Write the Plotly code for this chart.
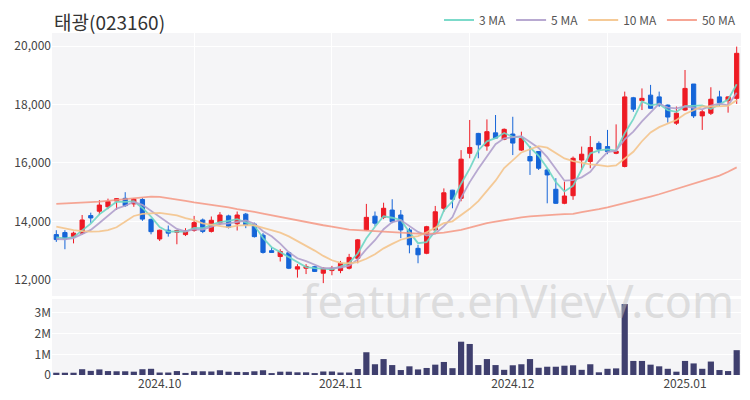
import plotly.graph_objects as go
import pandas as pd

dates = (
    ["2024-09-10", "2024-09-11", "2024-09-12", "2024-09-13", "2024-09-19", "2024-09-20",
     "2024-09-23", "2024-09-24", "2024-09-25", "2024-09-26", "2024-09-27", "2024-09-30"]
    + ["2024-10-02", "2024-10-04", "2024-10-07", "2024-10-08", "2024-10-10", "2024-10-11",
       "2024-10-14", "2024-10-15", "2024-10-16", "2024-10-17", "2024-10-18", "2024-10-21",
       "2024-10-22", "2024-10-23", "2024-10-24", "2024-10-25", "2024-10-28", "2024-10-29",
       "2024-10-30", "2024-10-31"]
    + ["2024-11-01", "2024-11-04", "2024-11-05", "2024-11-06", "2024-11-07", "2024-11-08",
       "2024-11-11", "2024-11-12", "2024-11-13", "2024-11-14", "2024-11-15", "2024-11-18",
       "2024-11-19", "2024-11-20", "2024-11-21", "2024-11-22", "2024-11-25", "2024-11-26",
       "2024-11-27", "2024-11-28", "2024-11-29"]
    + ["2024-12-02", "2024-12-03", "2024-12-04", "2024-12-05", "2024-12-06", "2024-12-09",
       "2024-12-10", "2024-12-11", "2024-12-12", "2024-12-13", "2024-12-16", "2024-12-17",
       "2024-12-18", "2024-12-19", "2024-12-20", "2024-12-23", "2024-12-24", "2024-12-26",
       "2024-12-27", "2024-12-30"]
    + ["2025-01-02", "2025-01-03", "2025-01-06", "2025-01-07", "2025-01-08", "2025-01-09",
       "2025-01-10"]
)

open_ = [13550, 13620, 13480, 13600, 14200, 14350, 14500, 14700, 14790, 14600,
         14750, 14070, 13400, 13700, 13630, 13550, 13690, 14050, 13660, 13950,
         14190, 13920, 14250, 13910, 13530, 13000, 12800, 12930, 12370, 12400,
         12450, 12230, 12320, 12320, 12400, 12740, 13710, 14180, 14140, 14390,
         14220, 13710, 13080, 12910, 13710, 14450, 15070, 14790, 16330, 17010,
         16580, 17030, 16810, 16990, 16440, 16220, 16390, 15760, 15100, 14620,
         14880, 16100, 16050, 16670, 16560, 16330, 15880, 18230, 18130, 18320,
         18260, 17980, 17360, 17810, 18700, 17610, 17700, 18260, 18130, 18210]
high = [13700, 13700, 13650, 14220, 14300, 14730, 14780, 14800, 15000, 14800,
        14800, 14100, 13720, 13860, 13710, 13770, 14190, 14100, 14170, 14320,
        14230, 14340, 14290, 13960, 13600, 13110, 13050, 12970, 12540, 12540,
        12480, 12430, 12480, 12650, 12890, 13400, 14600, 14340, 14640, 14760,
        14390, 13780, 13200, 13850, 14530, 15130, 15080, 16440, 17470, 17030,
        17490, 17640, 17180, 17580, 17070, 16580, 16390, 15820, 15480, 15360,
        16220, 16560, 16920, 16740, 17130, 17320, 18440, 18260, 18550, 18670,
        18440, 18000, 17930, 19180, 18700, 17810, 18590, 18470, 18280, 19980]
low = [13300, 13050, 13250, 13550, 13950, 14230, 14420, 14400, 14500, 14500,
       14020, 13560, 13330, 13480, 13220, 13500, 13650, 13600, 13620, 13880,
       13760, 13690, 13770, 13450, 12900, 12930, 12630, 12370, 12080, 12200,
       12270, 11890, 12160, 12230, 12360, 12570, 13690, 13850, 14080, 13940,
       13430, 12910, 12570, 12880, 13680, 14330, 14450, 14690, 16160, 16160,
       16420, 16840, 16780, 16270, 16410, 15590, 15760, 14620, 14600, 14590,
       14740, 15760, 15820, 16330, 16300, 16300, 15850, 17750, 17810, 17860,
       17920, 17380, 17300, 17780, 17540, 17130, 17640, 17950, 17720, 18020]
close = [13380, 13400, 13600, 14050, 14120, 14560, 14680, 14780, 14540, 14760,
         14080, 13650, 13700, 13600, 13690, 13680, 13960, 13660, 14040, 14220,
         13800, 14220, 13880, 13480, 12940, 12940, 12970, 12400, 12450, 12460,
         12290, 12400, 12400, 12570, 12770, 13370, 14140, 13940, 14450, 13990,
         13710, 13200, 12860, 13820, 14330, 14980, 14760, 16130, 16530, 16620,
         17070, 16850, 17150, 16680, 16840, 16070, 15820, 15590, 14620, 14870,
         16160, 16300, 16530, 16470, 16390, 16400, 18260, 17840, 18210, 17870,
         17980, 17570, 17700, 18550, 17610, 17750, 18180, 18060, 18260, 19750]
volume = [0.11, 0.11, 0.11, 0.28, 0.20, 0.27, 0.19, 0.18, 0.18, 0.16,
          0.28, 0.30, 0.12, 0.12, 0.19, 0.10, 0.18, 0.18, 0.17, 0.23,
          0.16, 0.15, 0.14, 0.18, 0.23, 0.08, 0.16, 0.16, 0.13, 0.13,
          0.08, 0.17, 0.17, 0.12, 0.12, 0.29, 1.10, 0.52, 0.77, 0.48,
          0.24, 0.42, 0.27, 0.34, 0.50, 0.63, 0.33, 1.61, 1.50, 0.48,
          0.77, 0.48, 0.25, 0.47, 0.52, 0.77, 0.35, 0.40, 0.40, 0.45,
          0.47, 0.25, 0.52, 0.13, 0.30, 0.32, 3.43, 0.68, 0.68, 0.50,
          0.42, 0.30, 0.16, 0.68, 0.56, 0.30, 0.65, 0.24, 0.19, 1.20]

# moving averages: leading values (history before the window)
ma3_head = [13450, 13420]
ma5_head = [13400, 13390, 13430, 13560]
ma10_head = [13820, 13760, 13700, 13670, 13650, 13660, 13700, 13800, 13990]
ma50 = [14600, 14610, 14625, 14640, 14660, 14680, 14705, 14735, 14765, 14795,
        14825, 14850, 14840, 14800, 14750, 14700, 14650, 14610, 14560, 14520,
        14480, 14420, 14380, 14330, 14270, 14210, 14150, 14100, 14040, 13980,
        13920, 13870, 13820, 13770, 13720, 13700, 13680, 13660, 13640, 13625,
        13615, 13600, 13585, 13575, 13590, 13615, 13660, 13710, 13790, 13870,
        13940, 13995, 14050, 14100, 14140, 14170, 14200, 14220, 14235, 14250,
        14260, 14320, 14360, 14420, 14480, 14550, 14620, 14690, 14760, 14850,
        14930, 15020, 15100, 15190, 15280, 15370, 15470, 15570, 15700, 15850]

x_label_idx = [12, 33, 53, 73]
x_labels = ["2024.10", "2024.11", "2024.12", "2025.01"]
x_grid_idx = [16, 32, 48, 64]


def moving_avg(values, n, head):
    s = pd.Series(values, dtype=float).rolling(n).mean().tolist()
    for i, v in enumerate(head):
        s[i] = v
    return s


ma3 = moving_avg(close, 3, ma3_head)
ma5 = moving_avg(close, 5, ma5_head)
ma10 = moving_avg(close, 10, ma10_head)

RED = "#ee1b24"
BLUE = "#1565d8"
FONT = "Noto Sans CJK KR, Noto Sans, sans-serif"

fig = go.Figure()
fig.add_trace(go.Candlestick(
    x=dates, open=open_, high=high, low=low, close=close,
    increasing=dict(line=dict(color=RED, width=1), fillcolor=RED),
    decreasing=dict(line=dict(color=BLUE, width=1), fillcolor=BLUE),
    showlegend=False, xaxis="x", yaxis="y", whiskerwidth=0,
))
ma_specs = [("3 MA", ma3, "rgba(110,214,196,0.9)"),
            ("5 MA", ma5, "rgba(176,160,204,0.9)"),
            ("10 MA", ma10, "rgba(244,196,140,0.9)"),
            ("50 MA", ma50, "rgba(244,150,130,0.85)")]
for name, vals, col in ma_specs:
    fig.add_trace(go.Scatter(x=dates, y=vals, mode="lines", name=name,
                             line=dict(color=col, width=1.8), xaxis="x", yaxis="y",
                             hoverinfo="skip"))
fig.add_trace(go.Bar(x=dates, y=[v * 1e6 for v in volume], marker=dict(color="#3f3f6e", line=dict(width=0)),
                     showlegend=False, xaxis="x2", yaxis="y2"))

fig.update_layout(
    width=750, height=400,
    margin=dict(l=44, r=17, t=25, b=33, autoexpand=False),
    paper_bgcolor="white", plot_bgcolor="#f5f5f7",
    font=dict(family=FONT, size=12, color="#444"),
    bargap=0.28,
    xaxis=dict(type="category", domain=[0, 1], anchor="y", range=[-0.5, 79.5],
               tickvals=[dates[i] for i in x_grid_idx], showticklabels=False,
               showgrid=True, gridcolor="white", gridwidth=1, ticks="",
               rangeslider=dict(visible=False), zeroline=False, showline=False),
    yaxis=dict(domain=[0.231, 1], range=[11450, 20445], tickvals=[12000, 14000, 16000, 18000, 20000],
               tickformat=",", showgrid=True, gridcolor="white", gridwidth=1, zeroline=False,
               ticks="", tickfont=dict(size=12, color="#444")),
    xaxis2=dict(type="category", domain=[0, 1], anchor="y2", matches="x", range=[-0.5, 79.5],
                tickvals=[dates[i] for i in x_label_idx], ticktext=x_labels,
                showgrid=False, ticks="", zeroline=False, tickfont=dict(size=12, color="#444")),
    yaxis2=dict(domain=[0, 0.222], range=[0, 3.67e6], tickvals=[0, 1e6, 2e6, 3e6],
                ticktext=["0", "1M", "2M", "3M"], showgrid=True, gridcolor="white",
                zeroline=False, ticks="", tickfont=dict(size=12, color="#444")),
    legend=dict(orientation="h", x=1, xanchor="right", yref="container", y=0.97, yanchor="middle",
                font=dict(size=12, color="#555"), bgcolor="rgba(0,0,0,0)"),
    showlegend=True,
)
fig.add_annotation(text="태광(023160)", xref="paper", yref="paper", x=0.0, y=1.035,
                   xanchor="left", yanchor="middle", showarrow=False,
                   font=dict(size=19, color="#333", family=FONT))
fig.add_annotation(text="feature.enVievV.com", xref="paper", yref="paper", x=0.677, y=0.219,
                   xanchor="center", yanchor="middle", showarrow=False,
                   font=dict(size=45, color="rgba(195,195,195,0.5)", family="Noto Sans, sans-serif"))

fig.write_html("out.html")
